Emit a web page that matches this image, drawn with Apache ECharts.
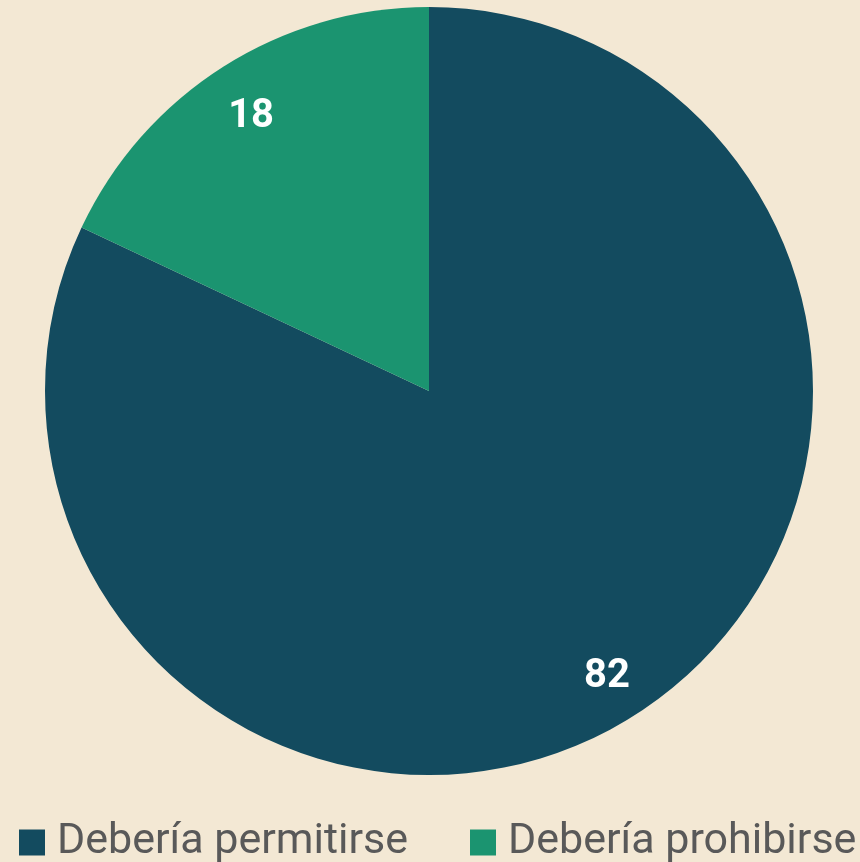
<!DOCTYPE html>
<html>
<head>
<meta charset="utf-8">
<script src="https://cdn.jsdelivr.net/npm/echarts@6/dist/echarts.min.js"></script>
<style>
  html, body { margin: 0; padding: 0; background: #f3e8d4; }
  #chart { width: 860px; height: 862px; }
</style>
</head>
<body>
<div id="chart"></div>
<script>
const categories = ['Debería permitirse', 'Debería prohibirse']
const values = [82, 18]
const colors = ['#134b5f', '#1b9470']

const pieData = categories.map((name, i) => ({
  name: name,
  value: values[i],
  itemStyle: { color: colors[i] }
}))

const chart = echarts.init(document.getElementById('chart'))

chart.setOption({
  backgroundColor: '#f3e8d4',
  animation: false,
  legend: {
    data: categories,
    left: 14,
    top: 816,
    width: 846,
    itemWidth: 26,
    itemHeight: 26,
    itemGap: 62,
    icon: 'rect',
    textStyle: {
      fontFamily: 'Roboto',
      fontSize: 43,
      color: '#595959',
      padding: [0, 0, 0, 7]
    }
  },
  series: [{
    // visible slices
    name: 'main',
    type: 'pie',
    center: [429, 391],
    radius: [0, 384],
    startAngle: 90,
    clockwise: true,
    label: { show: false },
    labelLine: { show: false },
    emphasis: { disabled: true },
    data: pieData
  }, {
    // transparent ring, only used to place labels at the right radius
    name: 'labels',
    type: 'pie',
    center: [429, 391],
    radius: [274, 384],
    startAngle: 90,
    clockwise: true,
    silent: true,
    itemStyle: { color: 'rgba(0,0,0,0)' },
    label: {
      show: true,
      position: 'inside',
      formatter: '{c}',
      fontFamily: 'Roboto',
      fontWeight: 'bold',
      fontSize: 40,
      color: '#ffffff',
      offset: [0, 6]
    },
    labelLine: { show: false },
    data: categories.map((name, i) => ({ name: name, value: values[i] }))
  }]
})
</script>
</body>
</html>
